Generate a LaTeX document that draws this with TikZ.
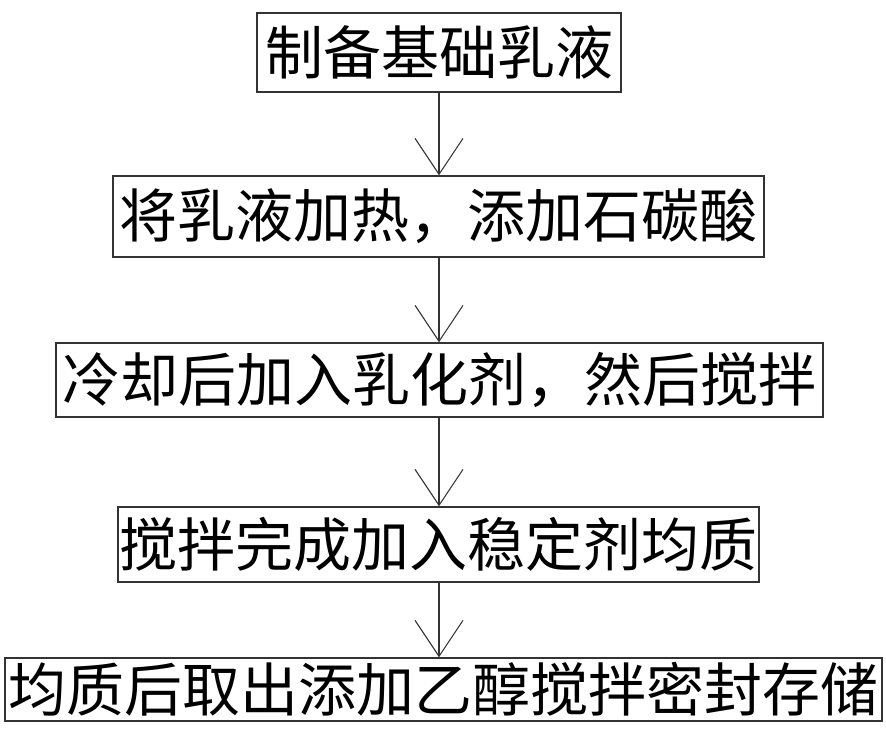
\documentclass[tikz,border=0pt]{standalone}
\usepackage{fontspec}
\newfontfamily\cjk{Noto Sans CJK SC}
\usetikzlibrary{arrows.meta}
\begin{document}
\begin{tikzpicture}[x=1pt,y=-1pt,
  stepbox/.style={draw=black!80,line width=1.3pt,inner sep=0pt,align=center,
    font=\cjk\fontsize{58}{62}\selectfont},
  flow/.style={draw=black!80,line width=1.1pt,-{Straight Barb[length=36pt,width=48pt,line width=1.1pt]}}]
\useasboundingbox[fill=white] (0,0) rectangle (886,729);
\node[stepbox,minimum width=364pt,minimum height=79pt] (s1) at (439,52.5) {制备基础乳液};
\node[stepbox,minimum width=651pt,minimum height=81pt] (s2) at (438.5,216.5) {将乳液加热，添加石碳酸};
\node[stepbox,minimum width=767pt,minimum height=74pt] (s3) at (439.5,380) {冷却后加入乳化剂，然后搅拌};
\node[stepbox,minimum width=641pt,minimum height=75pt] (s4) at (438.5,544.5) {搅拌完成加入稳定剂均质};
\node[stepbox,minimum width=877pt,minimum height=63pt] (s5) at (443.5,689.5) {均质后取出添加乙醇搅拌密封存储};
\draw[flow] (s1.south -| 439,0) -- (s2.north -| 439,0);
\draw[flow] (s2.south -| 439,0) -- (s3.north -| 439,0);
\draw[flow] (s3.south -| 439,0) -- (s4.north -| 439,0);
\draw[flow] (s4.south -| 439,0) -- (s5.north -| 439,0);
\end{tikzpicture}
\end{document}
